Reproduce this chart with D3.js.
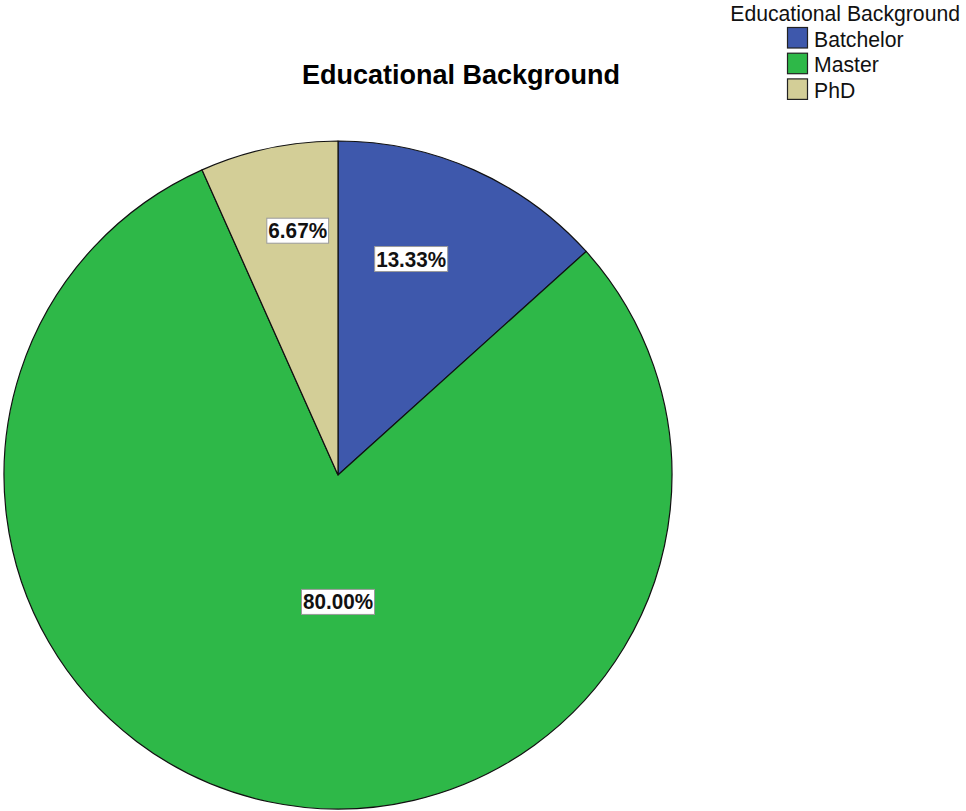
<!DOCTYPE html>
<html>
<head>
<meta charset="utf-8">
<script src="https://cdn.jsdelivr.net/npm/d3@7"></script>
<style>
  html, body { margin: 0; padding: 0; background: #fff; }
  svg { display: block; font-family: "Liberation Sans", Arial, sans-serif; }
</style>
</head>
<body>
<svg id="chart" width="966" height="811"></svg>
<script>
// Educational background of respondents (percent of cases)
const categories = ["Batchelor", "Master", "PhD"];
const percents = [13.33, 80.00, 6.67];
const colors = ["#3e58ac", "#2eb848", "#d3ce97"];
const chartTitle = "Educational Background";
const legendTitle = "Educational Background";

const W = 966, H = 811;
const cx = 338, cy = 475, R = 334;

const svg = d3.select("#chart");

// Title
svg.append("text")
  .attr("x", 461).attr("y", 84)
  .attr("text-anchor", "middle")
  .attr("font-size", 27).attr("font-weight", "bold")
  .attr("fill", "#000")
  .text(chartTitle);

const data = categories.map((c, i) => ({ name: c, value: percents[i], color: colors[i] }));

const pie = d3.pie().sort(null).value(d => d.value).startAngle(0).endAngle(2 * Math.PI);
const arcs = pie(data);
const arc = d3.arc().innerRadius(0).outerRadius(R);

const g = svg.append("g").attr("transform", `translate(${cx},${cy})`);

g.selectAll("path.slice")
  .data(arcs)
  .join("path")
  .attr("class", "slice")
  .attr("d", arc)
  .attr("fill", d => d.data.color)
  .attr("stroke", "#111")
  .attr("stroke-width", 1.2)
  .attr("stroke-linejoin", "round");

// Label placement: slices wrapping the bottom of the pie get a label straight
// below the centre; narrower slices sit out toward the rim, pulled toward the
// vertical axis.
function labelPos(d) {
  const frac = (d.endAngle - d.startAngle) / (2 * Math.PI);
  let a = (d.startAngle + d.endAngle) / 2;
  let rr;
  if (d.startAngle <= Math.PI && d.endAngle >= Math.PI && frac > 0.5) {
    a = Math.PI;
    rr = R * 0.38;
  } else {
    const ref = a > Math.PI ? 2 * Math.PI : 0;
    a = ref + (a - ref) * 0.78;
    rr = R * (0.8 - 0.88 * frac);
  }
  return [rr * Math.sin(a), -rr * Math.cos(a)];
}

const fmt = d3.format(".2f");
const labels = g.selectAll("g.lbl")
  .data(arcs)
  .join("g")
  .attr("class", "lbl")
  .attr("transform", d => `translate(${labelPos(d)})`);

labels.append("rect")
  .attr("fill", "#fff")
  .attr("stroke", "#9a9a9a")
  .attr("stroke-width", 1);

labels.append("text")
  .attr("text-anchor", "middle")
  .attr("y", 7.5)
  .attr("font-size", 22)
  .attr("font-weight", "bold")
  .attr("fill", "#111")
  .attr("textLength", d => fmt(d.data.value).length * 11.2 + 14)
  .attr("lengthAdjust", "spacingAndGlyphs")
  .text(d => fmt(d.data.value) + "%");

labels.each(function () {
  const t = d3.select(this).select("text").node().getBBox();
  d3.select(this).select("rect")
    .attr("x", t.x - 1.5).attr("y", -12.5)
    .attr("width", t.width + 3).attr("height", 25);
});

// Legend
const lg = svg.append("g");
lg.append("text")
  .attr("x", 960).attr("y", 21)
  .attr("text-anchor", "end")
  .attr("font-size", 21.2)
  .attr("fill", "#111")
  .text(legendTitle);

const items = lg.selectAll("g.item")
  .data(data)
  .join("g")
  .attr("class", "item")
  .attr("transform", (d, i) => `translate(787,${27 + i * 25.7})`);

items.append("rect")
  .attr("x", 0.5).attr("y", 0.5)
  .attr("width", 20).attr("height", 20.5)
  .attr("fill", d => d.color)
  .attr("stroke", "#222")
  .attr("stroke-width", 1.2);

items.append("text")
  .attr("x", 27).attr("y", 19.5)
  .attr("font-size", 21.2)
  .attr("fill", "#111")
  .text(d => d.name);
</script>
</body>
</html>
